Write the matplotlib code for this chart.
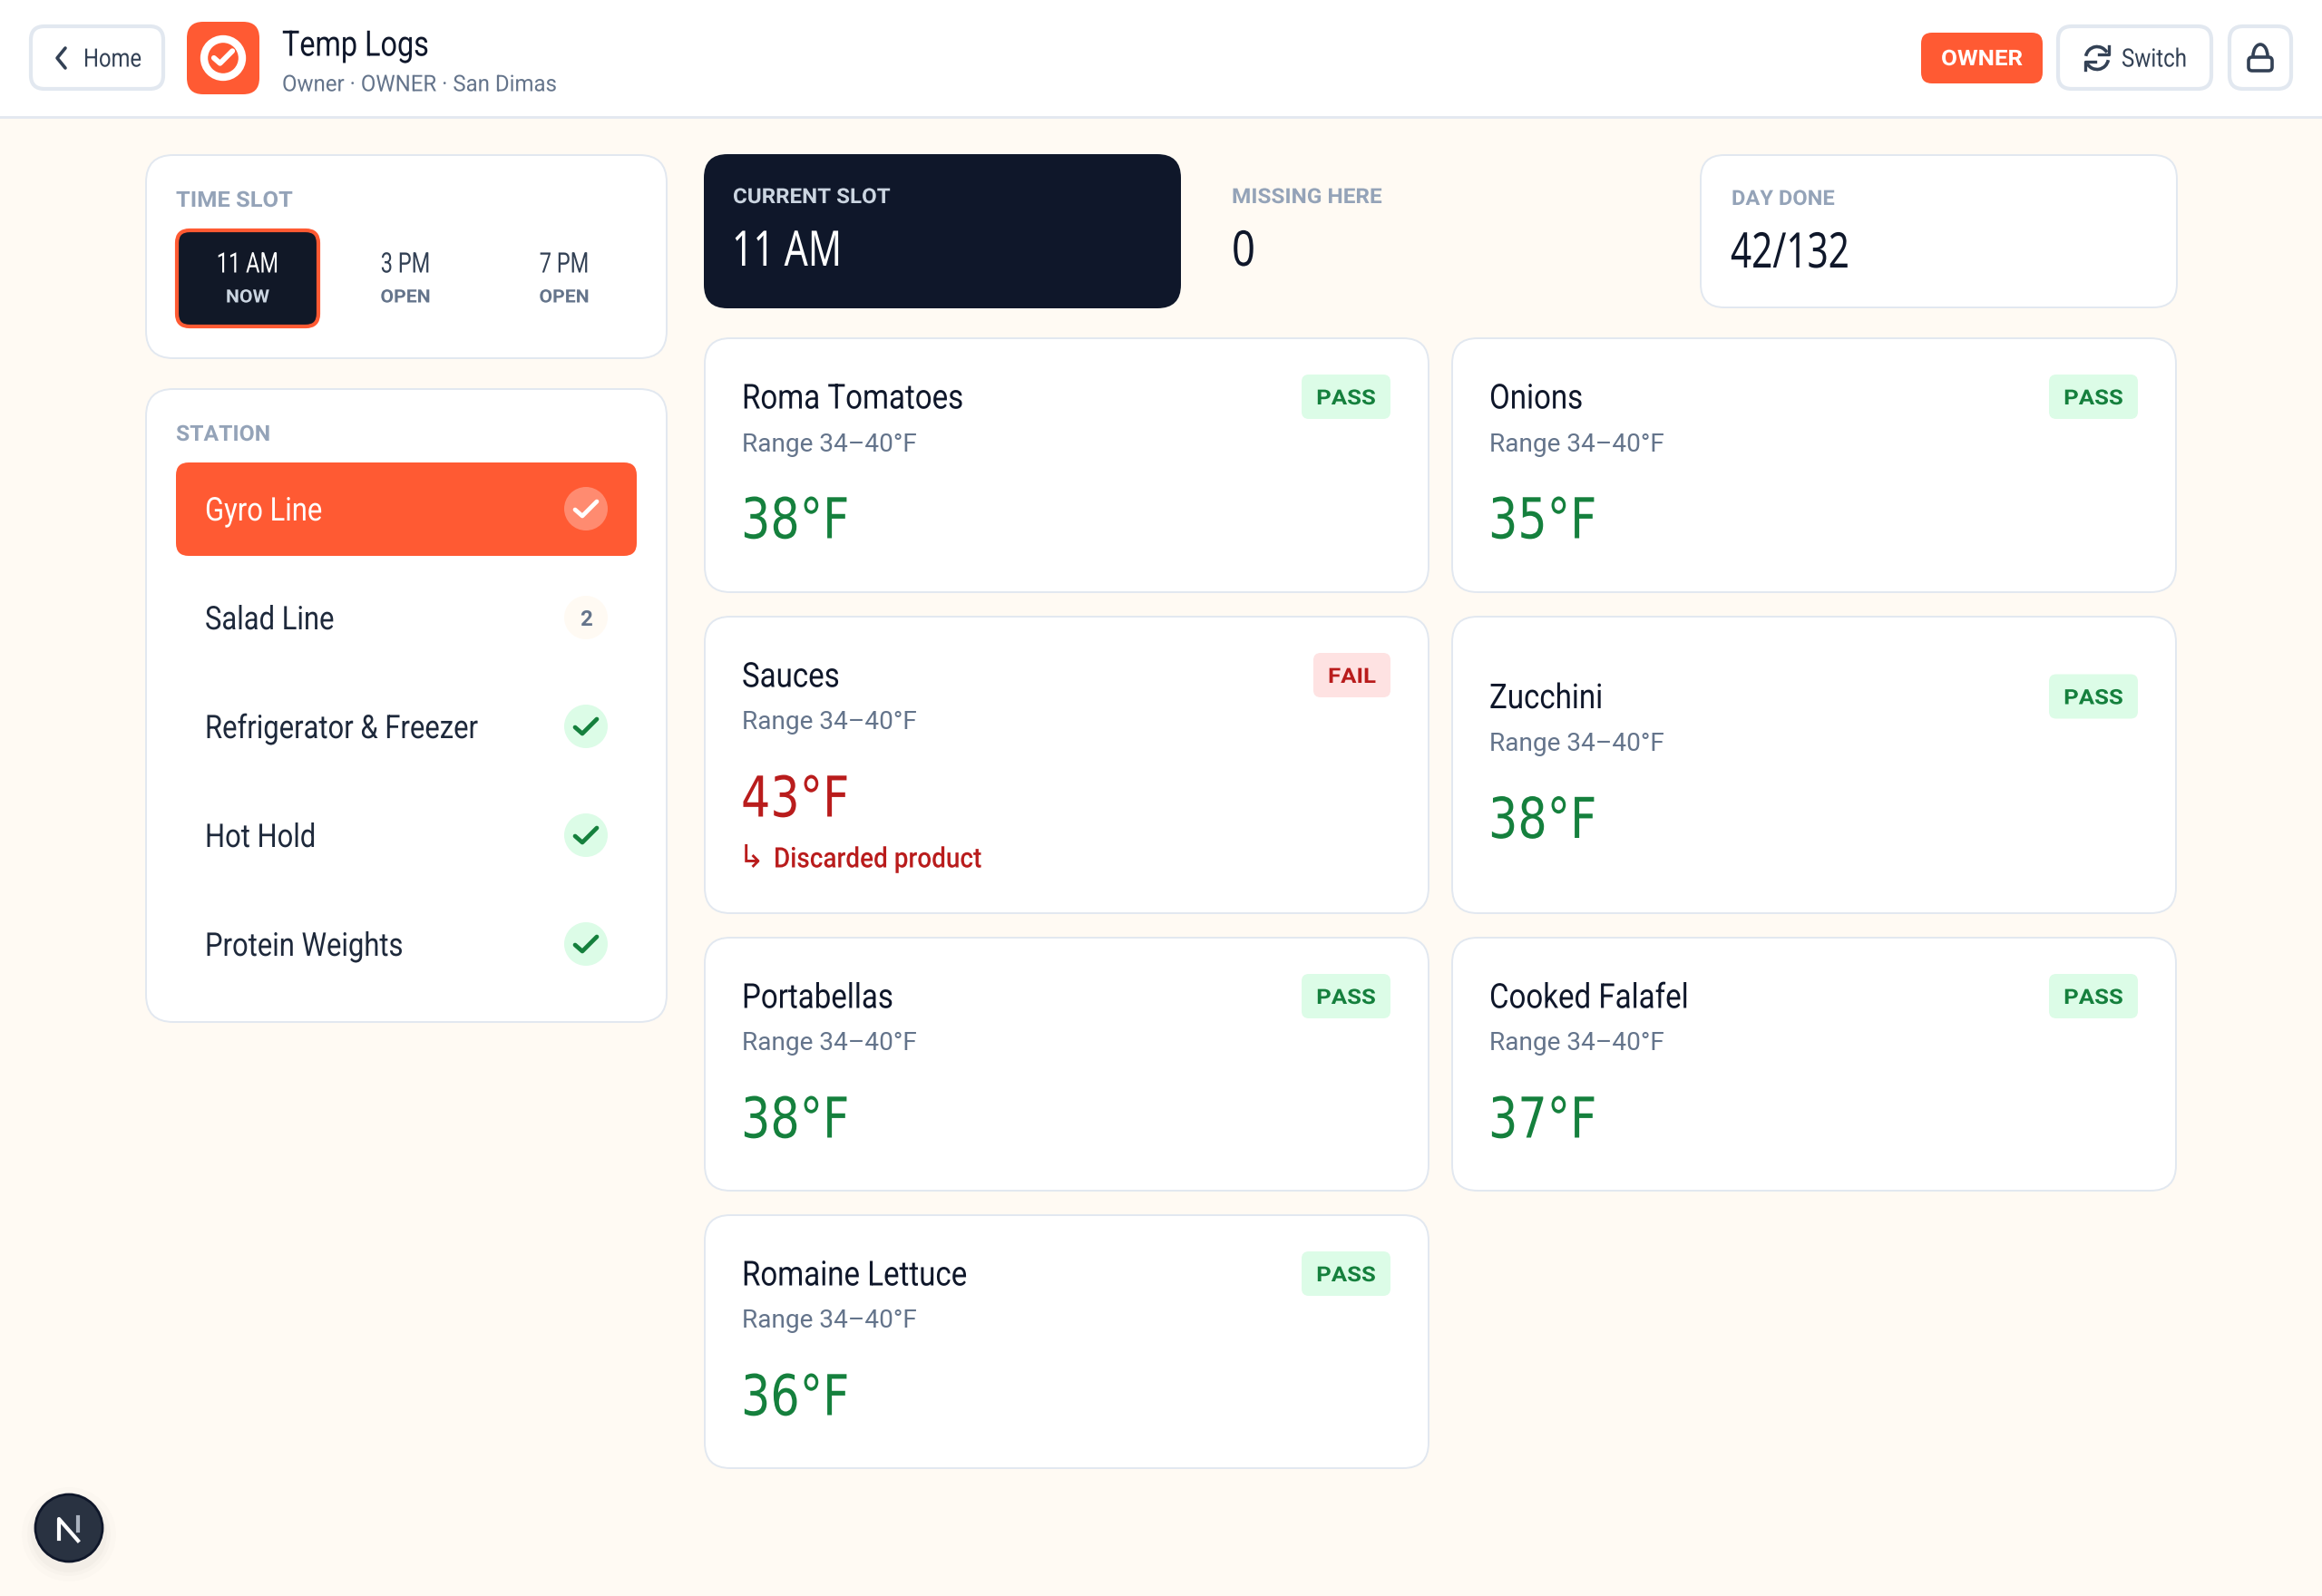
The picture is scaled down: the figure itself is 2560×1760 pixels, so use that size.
import matplotlib
matplotlib.use("Agg")
import matplotlib.pyplot as plt
from matplotlib.patches import FancyBboxPatch, Circle, Arc
from matplotlib.patheffects import AbstractPathEffect
from matplotlib.transforms import Affine2D

# chart content
slot_times = ["11 AM", "3 PM", "7 PM"]
slot_states = ["NOW", "OPEN", "OPEN"]
stations = ["Gyro Line", "Salad Line", "Refrigerator & Freezer", "Hot Hold", "Protein Weights"]
station_marks = ["active", "2", "done", "done", "done"]
items_left = ["Roma Tomatoes", "Sauces", "Portabellas", "Romaine Lettuce"]
temps_left = [38, 43, 38, 36]
status_left = ["PASS", "FAIL", "PASS", "PASS"]
items_right = ["Onions", "Zucchini", "Cooked Falafel"]
temps_right = [35, 38, 37]
status_right = ["PASS", "PASS", "PASS"]
range_text = "Range 34\u201340\u00b0F"

ORANGE = "#FF5A33"
NAVY = "#0F172A"
BORDER = "#E2E8F0"
SLATE = "#64748B"
MUTED = "#94A3B8"
GREEN = "#15803D"
RED = "#B91C1C"
SANS = ["Roboto", "DejaVu Sans"]
DISPLAY = ["Noto Sans", "DejaVu Sans"]
WIDE_DEG = ["DejaVu Sans"]

fig = plt.figure(figsize=(25.6, 17.6), dpi=100, facecolor="#FFFAF3")
ax = fig.add_axes([0, 0, 1, 1])
ax.set_xlim(0, 2560)
ax.set_ylim(1760, 0)
ax.axis("off")


class Squeeze(AbstractPathEffect):
    # narrows the glyphs around an anchor, there is no condensed font installed
    def __init__(self, x0, sx):
        super().__init__()
        self.x0 = x0
        self.sx = sx

    def draw_path(self, renderer, gc, tpath, affine, rgbFace=None):
        t = affine + Affine2D().translate(-self.x0, 0).scale(self.sx, 1).translate(self.x0, 0)
        renderer.draw_path(gc, tpath, t, rgbFace)


def box(x0, y0, x1, y1, r, fc="white", ec="none", lw=0, z=2):
    p = FancyBboxPatch((x0 + r, y0 + r), x1 - x0 - 2 * r, y1 - y0 - 2 * r,
                       boxstyle=f"round,pad={r},rounding_size={r}",
                       fc=fc, ec=ec, lw=lw, zorder=z)
    ax.add_patch(p)


def label(x, y, s, px, color, fam=SANS, ha="left", weight="normal", sx=1.0):
    # px is font size in image pixels
    t = ax.text(x, y, s, fontsize=px * 0.72, color=color, family=fam, ha=ha,
                va="center_baseline", weight=weight, zorder=5)
    if sx != 1.0:
        t.set_path_effects([Squeeze(x, sx)])


def check(cx, cy, color, s=1.0, lw=3.4):
    ax.plot([cx - 12 * s, cx - 4 * s, cx + 12 * s], [cy + 1 * s, cy + 8 * s, cy - 8 * s],
            color=color, lw=lw, solid_capstyle="round", solid_joinstyle="round", zorder=6)


# header
ax.fill_between([0, 2560], 0, 128, color="white", zorder=1, lw=0)
ax.plot([0, 2560], [129, 129], color=BORDER, lw=2, zorder=2)
box(34, 29, 180, 98, 15, ec=BORDER, lw=3)
ax.plot([72, 63, 72], [53, 64, 75], color="#334155", lw=2.6, solid_capstyle="round", zorder=6)
label(92, 63, "Home", 28, "#334155", sx=0.85)
box(206, 24, 286, 104, 18, fc=ORANGE)
ax.add_patch(Circle((246, 64), 21, fc="none", ec="white", lw=6, zorder=5))
check(246, 63, "white", 0.85, lw=4.2)
label(311, 47, "Temp Logs", 39, NAVY, sx=0.83)
label(311, 91, "Owner \u00b7 OWNER \u00b7 San Dimas", 25, SLATE, sx=0.96)
box(2118, 36, 2252, 92, 12, fc=ORANGE)
label(2185, 63, "OWNER", 24, "white", ha="center", weight="bold", sx=1.08)
box(2269, 29, 2438, 98, 15, ec=BORDER, lw=3)
ax.add_patch(Arc((2312, 64), 25, 25, theta1=190, theta2=330, color="#334155", lw=2.6, zorder=6))
ax.add_patch(Arc((2312, 64), 25, 25, theta1=10, theta2=150, color="#334155", lw=2.6, zorder=6))
ax.plot([2325, 2325, 2314], [51, 60, 60], color="#334155", lw=2.4, zorder=6)
ax.plot([2299, 2299, 2310], [77, 68, 68], color="#334155", lw=2.4, zorder=6)
label(2339, 63, "Switch", 28, "#334155", sx=0.86)
box(2458, 29, 2526, 98, 15, ec=BORDER, lw=3)
box(2479, 63, 2505, 78, 4, fc="white", ec="#334155", lw=2.6, z=6)
ax.add_patch(Arc((2492, 62), 16, 26, theta1=180, theta2=360, color="#334155", lw=2.6, zorder=6))

# time slot card
box(161, 171, 735, 395, 30, ec=BORDER, lw=1.4)
label(194, 219, "TIME SLOT", 24, MUTED, weight="bold", sx=1.06)
slot_x = [273, 447, 622]
box(195, 254, 351, 360, 14, fc="#111827", ec=ORANGE, lw=3)
for i, (t, st) in enumerate(zip(slot_times, slot_states)):
    label(slot_x[i], 289, t, 31, "white" if i == 0 else "#334155", ha="center", sx=0.76)
    label(slot_x[i], 326, st, 20, "#CBD5E1" if i == 0 else SLATE, ha="center", weight="bold", sx=1.06)

# station card
box(161, 429, 735, 1127, 30, ec=BORDER, lw=1.4)
label(194, 477, "STATION", 24, MUTED, weight="bold", sx=1.03)
box(194, 510, 702, 613, 14, fc=ORANGE)
for i, (name, mark) in enumerate(zip(stations, station_marks)):
    y = 561 + i * 120
    label(226, y - 1, name, 36, "white" if i == 0 else "#1E293B", sx=0.86)
    if mark == "active":
        ax.add_patch(Circle((646, y), 24, fc="#FF8B70", ec="none", zorder=4))
        check(646, y, "white")
    elif mark == "done":
        ax.add_patch(Circle((646, y), 24, fc="#DCFCE7", ec="none", zorder=4))
        check(646, y, GREEN)
    else:
        ax.add_patch(Circle((646, y), 24, fc="#FFFAF3", ec="none", zorder=4))
        label(646, y, mark, 24, SLATE, ha="center", weight="bold")

# top strip
box(776, 170, 1302, 340, 26, fc="#0F172A")
label(808, 215, "CURRENT SLOT", 23, "#CBD5E1", weight="bold", sx=1.05)
label(807, 272, "11 AM", 54, "white", fam=DISPLAY, weight="medium", sx=0.76)
label(1358, 215, "MISSING HERE", 23, MUTED, weight="bold", sx=1.06)
label(1358, 272, "0", 54, NAVY, fam=DISPLAY, weight="medium", sx=0.84)
box(1875, 171, 2400, 339, 26, ec=BORDER, lw=1.4)
label(1909, 217, "DAY DONE", 23, MUTED, weight="bold", sx=1.03)
label(1908, 274, "42/132", 54, NAVY, fam=DISPLAY, weight="medium", sx=0.75)


def item_card(x0, y0, y1, name, temp, status, centered=False):
    x1 = x0 + 799
    box(x0 + 1, y0 + 1, x1, y1, 28, ec=BORDER, lw=1.4)
    dy = (y1 - y0 - 281) / 2 if centered else 0
    top = y0 + dy
    tc = RED if status == "FAIL" else GREEN
    label(x0 + 42, top + 64, name, 38, NAVY, sx=0.87)
    label(x0 + 42, top + 115, range_text, 28, SLATE)
    label(x0 + 41, top + 198, f"{temp}\u00b0F", 62, tc, fam=WIDE_DEG, sx=0.82)
    bw = 85 if status == "FAIL" else 98
    box(x1 - 42 - bw, top + 41, x1 - 42, top + 90, 8, fc="#FEE2E2" if status == "FAIL" else "#DCFCE7")
    label(x1 - 42 - bw / 2, top + 65, status, 23, tc, ha="center", weight="bold", sx=1.12)


# item grid
row_tops = [372, 679, 1033, 1339]
row_bots = [653, 1007, 1313, 1619]
for i in range(4):
    item_card(776, row_tops[i], row_bots[i], items_left[i], temps_left[i], status_left[i])
for i in range(3):
    item_card(1600, row_tops[i], row_bots[i], items_right[i], temps_right[i], status_right[i],
              centered=(items_right[i] == "Zucchini"))
ax.text(814, 943, "\u21b3", fontsize=25, color=RED, family="DejaVu Sans", va="center_baseline", zorder=5)
label(853, 945, "Discarded product", 31, RED, weight="medium", sx=0.9)

# dev badge
for rr, a in [(52, 0.012), (46, 0.015), (42, 0.02)]:
    ax.add_patch(Circle((76, 1692), rr, fc="black", ec="none", alpha=a, zorder=3))
ax.add_patch(Circle((76, 1685), 37, fc="#293241", ec="#0F172A", lw=2, zorder=4))
ax.plot([65, 65, 86], [1697, 1675, 1699], color="white", lw=3, zorder=5)
ax.plot([86, 86], [1673, 1688], color="#AAB2BF", lw=3, zorder=5)

fig.savefig("out.png", dpi=100, facecolor=fig.get_facecolor())
